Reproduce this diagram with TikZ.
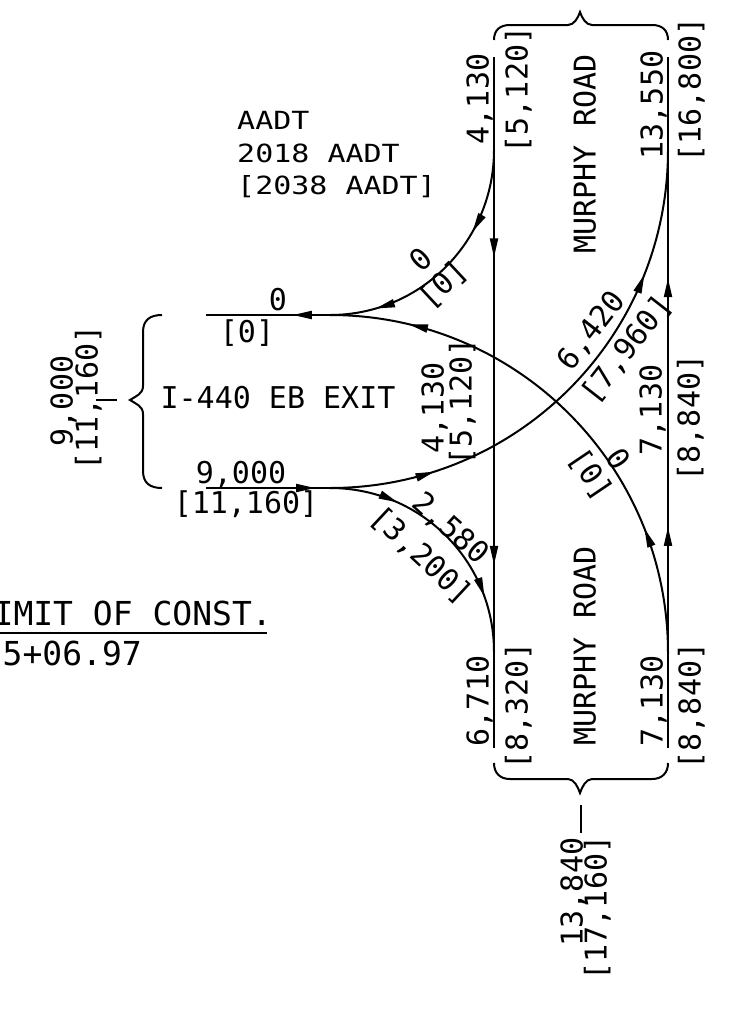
\documentclass[tikz,border=0pt]{standalone}
\usepackage{fontspec}
\usetikzlibrary{arrows.meta,decorations.markings}
\newfontfamily\cadfont{DejaVu Sans Mono}
\newfontfamily\cadwide[FakeStretch=1.2]{DejaVu Sans Mono}
\begin{document}
\begin{tikzpicture}[x=1pt,y=-1pt,
  cadtip/.tip={Triangle[length=19pt,width=8pt]},
  road/.style={line width=2pt},
  onemark/.style={postaction={decorate},decoration={markings,mark=at position #1 with {\arrow{cadtip}}}},
  twomarks/.style 2 args={postaction={decorate},decoration={markings,mark=at position #1 with {\arrow{cadtip}},mark=at position #2 with {\arrow{cadtip}}}},
  lbl/.style={font=\cadfont\fontsize{30}{36}\selectfont,inner sep=0pt,text height=21pt,text depth=0pt},
  aadt/.style={font=\cadwide\fontsize{25}{30}\selectfont,inner sep=0pt,text height=18pt,text depth=0pt},
  big/.style={font=\cadfont\fontsize{33}{40}\selectfont,inner sep=0pt,text height=24pt,text depth=0pt}]
\useasboundingbox (0,0) rectangle (734,1009);
\fill[white] (0,0) rectangle (734,1009);
\begin{scope}
\clip (0,0) rectangle (734,1009);
% key points
\coordinate (Ltop) at (494,57);
\coordinate (Lbot) at (494,748);
\coordinate (Rtop) at (668,57);
\coordinate (Rbot) at (668,748);
\coordinate (L150) at (494,150);
\coordinate (L652) at (494,652);
\coordinate (R150) at (668,150);
\coordinate (R653) at (668,653);
\coordinate (Etop) at (330,315);
\coordinate (Eend) at (206,315);
\coordinate (Ebot) at (330,488);
\coordinate (Estart) at (206,488);
% roads
\draw[road,twomarks={0.29}{0.735}] (Ltop) -- (Lbot);
\draw[road,twomarks={0.32}{0.68}] (Rbot) -- (Rtop);
\draw[road,twomarks={0.33}{0.82}] (L150) .. controls +(0,91) and +(91,0) .. (Etop);
\draw[road,onemark=0.3] (Etop) -- (Eend);
\draw[road,twomarks={0.24}{0.85}] (R653) .. controls +(0,-187) and +(187,0) .. (Etop);
\draw[road,onemark=0.88] (Estart) -- (Ebot);
\draw[road,twomarks={0.2}{0.76}] (Ebot) .. controls +(187,0) and +(0,187) .. (R150);
\draw[road,twomarks={0.27}{0.78}] (Ebot) .. controls +(91,0) and +(0,-91) .. (L652);
% braces
\coordinate (TBl) at (494,40);
\coordinate (TBr) at (668,40);
\coordinate (TBtip) at (580,12);
\draw[road] (TBl) .. controls +(0,-10) and +(-10,0) .. (510,25) -- (568,25)
  .. controls +(6,0) and +(-2,6) .. (TBtip) .. controls +(2,6) and +(-6,0) .. (592,25)
  -- (652,25) .. controls +(10,0) and +(0,-10) .. (TBr);
\coordinate (BBl) at (494,763);
\coordinate (BBr) at (668,763);
\coordinate (BBtip) at (580,793);
\draw[road] (BBl) .. controls +(0,10) and +(-10,0) .. (510,779) -- (568,779)
  .. controls +(6,0) and +(-2,-6) .. (BBtip) .. controls +(2,-6) and +(-6,0) .. (592,779)
  -- (652,779) .. controls +(10,0) and +(0,10) .. (BBr);
\coordinate (LBt) at (162,315);
\coordinate (LBb) at (162,488);
\coordinate (LBtip) at (130,400);
\draw[road] (LBt) .. controls +(-12,0) and +(0,-12) .. (143,332) -- (143,386)
  .. controls +(0,8) and +(6,-4) .. (LBtip) .. controls +(6,4) and +(0,-8) .. (143,414)
  -- (143,471) .. controls +(0,12) and +(-12,0) .. (LBb);
% leaders
\coordinate (LL1) at (96,400);
\coordinate (LL2) at (117,400);
\draw[road] (LL1) -- (LL2);
\coordinate (BL1) at (581,805);
\coordinate (BL2) at (581,833);
\draw[road] (BL1) -- (BL2);
% labels
\node[lbl,rotate=90] (t4130) at (478,99) {4,130};
\node[lbl,rotate=90] (t5120) at (517,90) {[5,120]};
\node[lbl,rotate=90] (mr1) at (585,154) {MURPHY ROAD};
\node[lbl,rotate=90] (t13550) at (652,105) {13,550};
\node[lbl,rotate=90] (t16800) at (690,90) {[16,800]};
\node[aadt,anchor=west] (a1) at (237,120) {AADT};
\node[aadt,anchor=west] (a2) at (237,153) {2018 AADT};
\node[aadt,anchor=west] (a3) at (237,185) {[2038 AADT]};
\node[lbl] (z1) at (278,300) {0};
\node[lbl] (z1b) at (247,332) {[0]};
\node[lbl] (exit) at (278,398) {I-440 EB EXIT};
\node[lbl] (n9000) at (241,473) {9,000};
\node[lbl] (n11160) at (246,503) {[11,160]};
\node[lbl,rotate=90] (s9000) at (62,401) {9,000};
\node[lbl,rotate=90] (s11160) at (87,398) {[11,160]};
\node[lbl,rotate=43] (z2) at (421,260) {0};
\node[lbl,rotate=43] (z2b) at (443,284) {[0]};
\node[lbl,rotate=90] (m4130) at (433,408) {4,130};
\node[lbl,rotate=90] (m5120) at (461,402) {[5,120]};
\node[lbl,rotate=52] (n6420) at (591,330) {6,420};
\node[lbl,rotate=52] (n7960) at (626,349) {[7,960]};
\node[lbl,rotate=-56] (z3) at (618,459) {0};
\node[lbl,rotate=-56] (z3b) at (591,474) {[0]};
\node[lbl,rotate=90] (m7130) at (651,410) {7,130};
\node[lbl,rotate=90] (m8840) at (689,418) {[8,840]};
\node[lbl,rotate=-42] (n2580) at (451,528) {2,580};
\node[lbl,rotate=-43] (n3200) at (422,555) {[3,200]};
\node[lbl,rotate=90] (mr2) at (585,646) {MURPHY ROAD};
\node[lbl,rotate=90] (b6710) at (478,701) {6,710};
\node[lbl,rotate=90] (b8320) at (517,706) {[8,320]};
\node[lbl,rotate=90] (b7130) at (652,701) {7,130};
\node[lbl,rotate=90] (b8840) at (690,706) {[8,840]};
\node[lbl,rotate=90] (t13840) at (572,892) {13,840};
\node[lbl,rotate=90] (t17160) at (596,908) {[17,160]};
\node[big,anchor=east] (limit) at (272,613) {LIMIT OF CONST.};
\node[big,anchor=east] (sta) at (142,653) {5+06.97};
\coordinate (UL1) at (0,633);
\coordinate (UL2) at (267,633);
\draw[road] (UL1) -- (UL2);
\end{scope}
\end{tikzpicture}
\end{document}
